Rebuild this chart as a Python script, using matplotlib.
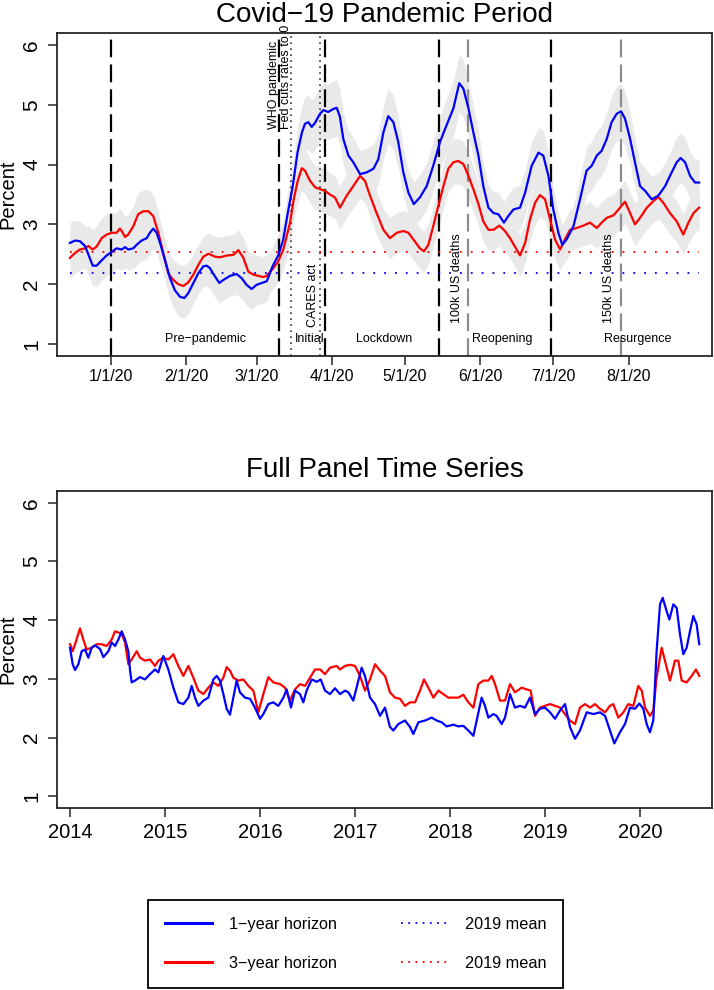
import matplotlib
matplotlib.use("Agg")
import matplotlib.pyplot as plt
import numpy as np
from matplotlib.lines import Line2D

plt.rcParams["font.family"] = ["Liberation Sans", "DejaVu Sans"]

# ---------------- Covid-19 pandemic period (days since 2020-01-01) ----------------
DAY0 = np.datetime64("2020-01-01")

blue_days = [-16.9, -14.8, -12.8, -10.7, -9.3, -7.5, -5.9, -3.8, -1.8, 0.3,
             2.3, 4.4, 5.8, 7.1, 9.2, 10.6, 12.6, 14.7, 16.0, 17.4,
             18.8, 20.2, 22.2, 24.3, 26.3, 28.4, 30.2, 31.8, 33.9, 35.9,
             38.0, 39.4, 40.7, 42.8, 44.6, 46.2, 49.0, 51.7, 53.8, 55.8,
             57.9, 59.9, 62.0, 64.1, 66.5, 68.8, 70.9, 72.8, 74.8, 76.8,
             78.6, 79.8, 81.2, 82.6, 84.0, 86.0, 87.4, 89.4, 91.5, 92.9,
             94.2, 95.6, 97.7, 99.7,
             102.5, 105.2, 108.0, 110.0, 112.1, 114.1, 116.2, 118.2, 120.3, 122.4,
             124.6, 127.1, 129.9, 132.6, 135.4, 138.1, 140.9, 143.3, 145.0, 147.1,
             149.1, 151.2, 153.2, 155.3, 157.4, 159.4, 161.7, 163.5, 165.6, 168.3,
             170.4, 173.1, 175.9, 177.9, 180.0, 182.0, 184.1, 185.7, 187.5, 190.3,
             193.0, 195.7, 197.8, 199.9, 201.9, 204.0, 206.0, 208.1, 209.9, 211.5,
             213.6, 215.6, 217.7, 219.8, 222.5, 225.2, 228.0, 230.7, 232.8, 234.4,
             236.2, 238.3, 240.3, 242.0]
blue_vals = [2.69, 2.73, 2.72, 2.64, 2.50, 2.31, 2.31, 2.40, 2.48, 2.54,
             2.60, 2.58, 2.62, 2.58, 2.60, 2.66, 2.73, 2.77, 2.86, 2.93,
             2.86, 2.69, 2.41, 2.10, 1.90, 1.79, 1.77, 1.85, 2.02, 2.18,
             2.30, 2.31, 2.27, 2.13, 2.02, 2.07, 2.14, 2.17, 2.10, 1.99,
             1.92, 1.99, 2.02, 2.05, 2.30, 2.48, 2.75, 3.20, 3.64, 4.21,
             4.54, 4.68, 4.71, 4.63, 4.70, 4.85, 4.91, 4.88, 4.93, 4.95,
             4.80, 4.43, 4.15, 4.04,
             3.84, 3.87, 3.93, 4.09, 4.54, 4.81, 4.71, 4.38, 3.87, 3.53,
             3.34, 3.45, 3.64, 3.98, 4.38, 4.66, 4.94, 5.36, 5.27, 4.94,
             4.54, 4.15, 3.64, 3.28, 3.19, 3.17, 3.03, 3.14, 3.25, 3.28,
             3.53, 3.98, 4.20, 4.15, 3.81, 3.25, 2.86, 2.66, 2.75, 2.97,
             3.42, 3.90, 3.98, 4.15, 4.23, 4.43, 4.71, 4.85, 4.89, 4.77,
             4.43, 4.04, 3.64, 3.56, 3.42, 3.48, 3.64, 3.87, 4.04, 4.11,
             4.04, 3.81, 3.70, 3.70]
blue_band = [0.34, 0.34, 0.34, 0.34, 0.34, 0.34, 0.34, 0.34, 0.34, 0.34,
             0.34, 0.34, 0.34, 0.34, 0.34, 0.34, 0.34, 0.34, 0.34, 0.35,
             0.34, 0.34, 0.34, 0.34, 0.34, 0.34, 0.34, 0.34, 0.34, 0.34,
             0.34, 0.34, 0.34, 0.34, 0.34, 0.34, 0.34, 0.34, 0.34, 0.34,
             0.34, 0.34, 0.34, 0.34, 0.34, 0.34, 0.34, 0.36, 0.39, 0.42,
             0.44, 0.45, 0.45, 0.45, 0.45, 0.46, 0.46, 0.46, 0.47, 0.47,
             0.46, 0.44, 0.42, 0.41,
             0.40, 0.40, 0.41, 0.42, 0.44, 0.46, 0.45, 0.43, 0.40, 0.38,
             0.37, 0.38, 0.39, 0.41, 0.43, 0.45, 0.47, 0.48, 0.48, 0.47,
             0.44, 0.42, 0.39, 0.37, 0.36, 0.36, 0.35, 0.36, 0.37, 0.37,
             0.38, 0.41, 0.42, 0.42, 0.40, 0.37, 0.34, 0.34, 0.34, 0.35,
             0.38, 0.40, 0.41, 0.42, 0.42, 0.44, 0.45, 0.46, 0.46, 0.46,
             0.44, 0.41, 0.39, 0.38, 0.38, 0.38, 0.39, 0.40, 0.41, 0.42,
             0.41, 0.40, 0.39, 0.39]

red_days = [-16.9, -14.8, -12.8, -10.7, -9.3, -7.5, -5.9, -3.8, -1.8, 0.3,
            2.3, 3.7, 4.4, 5.8, 7.1, 9.2, 11.2, 13.3, 15.4, 17.4,
            19.5, 21.5, 23.6, 25.7, 27.7, 29.8, 31.8, 33.9, 35.9, 38.0,
            40.1, 42.8, 44.9, 47.6, 50.3, 52.4, 54.5, 56.5, 58.6, 60.6,
            62.7, 64.1, 66.8, 68.8, 70.9, 73.7, 75.2, 76.8, 78.5, 79.8,
            81.9, 84.0, 86.0, 88.1, 90.1, 92.2, 94.2,
            97.0, 99.7, 102.5, 104.5, 106.6, 109.3, 112.1, 114.8, 117.6, 120.3,
            122.4, 124.4, 127.1, 128.8, 130.6, 132.6, 134.7, 136.8, 138.8, 140.9,
            142.9, 145.0, 147.1, 149.1, 151.2, 153.2, 155.3, 157.4, 159.8, 162.1,
            164.2, 166.2, 168.3, 170.4, 172.4, 174.5, 176.5, 178.6, 180.7, 182.7,
            184.8, 186.8, 188.9, 191.6, 194.4, 197.1, 199.9, 201.9, 204.0, 206.7,
            209.5, 211.5, 213.6, 215.6, 217.7, 220.5, 223.2, 225.2, 227.3, 230.0,
            232.8, 235.5, 237.6, 239.7, 242.0]
red_vals = [2.44, 2.52, 2.58, 2.60, 2.64, 2.58, 2.63, 2.77, 2.83, 2.86,
            2.86, 2.93, 2.89, 2.79, 2.83, 2.97, 3.17, 3.22, 3.22, 3.14,
            2.86, 2.52, 2.18, 2.07, 2.00, 1.97, 2.03, 2.16, 2.32, 2.46,
            2.51, 2.46, 2.45, 2.48, 2.49, 2.57, 2.44, 2.21, 2.16, 2.14,
            2.12, 2.14, 2.27, 2.38, 2.58, 3.03, 3.42, 3.72, 3.94, 3.90,
            3.73, 3.62, 3.59, 3.56, 3.50, 3.45, 3.28,
            3.48, 3.64, 3.81, 3.73, 3.48, 3.19, 2.91, 2.77, 2.86, 2.89,
            2.86, 2.75, 2.60, 2.55, 2.66, 2.97, 3.31, 3.64, 3.93, 4.04,
            4.06, 4.01, 3.81, 3.59, 3.34, 3.05, 2.91, 2.91, 2.98, 2.89,
            2.77, 2.63, 2.48, 2.69, 3.08, 3.36, 3.49, 3.42, 3.08, 2.75,
            2.58, 2.75, 2.91, 2.94, 2.98, 3.03, 2.94, 3.03, 3.11, 3.15,
            3.28, 3.38, 3.19, 3.00, 3.11, 3.28, 3.39, 3.46, 3.36, 3.19,
            3.05, 2.83, 3.03, 3.19, 3.28]
red_band = [0.34, 0.34, 0.34, 0.34, 0.34, 0.34, 0.34, 0.34, 0.34, 0.34,
            0.34, 0.34, 0.34, 0.34, 0.34, 0.34, 0.36, 0.36, 0.36, 0.36,
            0.34, 0.34, 0.34, 0.34, 0.34, 0.34, 0.34, 0.34, 0.34, 0.34,
            0.34, 0.34, 0.34, 0.34, 0.34, 0.34, 0.34, 0.34, 0.34, 0.34,
            0.34, 0.34, 0.34, 0.34, 0.34, 0.35, 0.36, 0.37, 0.38, 0.38,
            0.37, 0.37, 0.37, 0.37, 0.36, 0.36, 0.36,
            0.36, 0.37, 0.38, 0.37, 0.36, 0.36, 0.34, 0.34, 0.34, 0.34,
            0.34, 0.34, 0.34, 0.34, 0.34, 0.34, 0.36, 0.37, 0.38, 0.38,
            0.38, 0.38, 0.38, 0.37, 0.36, 0.35, 0.34, 0.34, 0.34, 0.34,
            0.34, 0.34, 0.34, 0.34, 0.35, 0.36, 0.36, 0.36, 0.35, 0.34,
            0.34, 0.34, 0.34, 0.34, 0.34, 0.35, 0.34, 0.35, 0.35, 0.35,
            0.36, 0.36, 0.35, 0.35, 0.35, 0.36, 0.36, 0.36, 0.36, 0.35,
            0.35, 0.34, 0.35, 0.35, 0.36]

blue_mean_2019 = 2.18
red_mean_2019 = 2.54

month_ticks = ["2020-01-01", "2020-02-01", "2020-03-01", "2020-04-01",
               "2020-05-01", "2020-06-01", "2020-07-01", "2020-08-01"]
month_labels = ["1/1/20", "2/1/20", "3/1/20", "4/1/20",
                "5/1/20", "6/1/20", "7/1/20", "8/1/20"]

period_dates = ["2020-01-01", "2020-03-10", "2020-03-29", "2020-05-15", "2020-06-30"]
policy_dates = ["2020-03-15", "2020-03-27"]
deaths_dates = ["2020-05-27", "2020-07-29"]

period_names = ["Pre\u2212pandemic", "Initial", "Lockdown", "Reopening", "Resurgence"]
period_label_days = [38.7, 81.9, 112.3, 160.9, 216.9]

# ---------------- Full panel (decimal years) ----------------
full_blue_years = [2014.000, 2014.028, 2014.053, 2014.088, 2014.123, 2014.158, 2014.193, 2014.228,
                   2014.263, 2014.316, 2014.351, 2014.404, 2014.439, 2014.474, 2014.509, 2014.544,
                   2014.579, 2014.614, 2014.632, 2014.649, 2014.684, 2014.737, 2014.789, 2014.842,
                   2014.895, 2014.930, 2014.982, 2015.035, 2015.088, 2015.140, 2015.193, 2015.246,
                   2015.281, 2015.316, 2015.351, 2015.404, 2015.456, 2015.509, 2015.544, 2015.579,
                   2015.614, 2015.649, 2015.684, 2015.719, 2015.754, 2015.789, 2015.842, 2015.895,
                   2015.947, 2016.000, 2016.035, 2016.088, 2016.140, 2016.193, 2016.246, 2016.281,
                   2016.326, 2016.368, 2016.421, 2016.456, 2016.491, 2016.544, 2016.596, 2016.639,
                   2016.684, 2016.737, 2016.789,
                   2016.842, 2016.895, 2016.930, 2016.982, 2017.035, 2017.070, 2017.105, 2017.158,
                   2017.211, 2017.263, 2017.316, 2017.368, 2017.404, 2017.456, 2017.526, 2017.579,
                   2017.614, 2017.667, 2017.737, 2017.807, 2017.860, 2017.912, 2017.965, 2018.035,
                   2018.088, 2018.140, 2018.193, 2018.246, 2018.288, 2018.333, 2018.368, 2018.404,
                   2018.456, 2018.491, 2018.544, 2018.579, 2018.632, 2018.684, 2018.737, 2018.789,
                   2018.842, 2018.895, 2018.947, 2019.000, 2019.053, 2019.105, 2019.158, 2019.211,
                   2019.263, 2019.316, 2019.368, 2019.439, 2019.509, 2019.579, 2019.632, 2019.684,
                   2019.730, 2019.789, 2019.842, 2019.895, 2019.947, 2019.993, 2020.035, 2020.070,
                   2020.105, 2020.140, 2020.175, 2020.211, 2020.239, 2020.281, 2020.309, 2020.351,
                   2020.386, 2020.421, 2020.456, 2020.491, 2020.526, 2020.561, 2020.596, 2020.624]
full_blue_vals = [3.53, 3.25, 3.15, 3.25, 3.47, 3.50, 3.36, 3.53,
                  3.57, 3.51, 3.37, 3.47, 3.62, 3.56, 3.67, 3.81,
                  3.67, 3.47, 3.14, 2.94, 2.97, 3.03, 2.99, 3.08,
                  3.16, 3.11, 3.39, 3.16, 2.85, 2.60, 2.57, 2.68,
                  2.88, 2.68, 2.54, 2.63, 2.68, 2.99, 3.05, 2.97,
                  2.74, 2.49, 2.39, 2.68, 2.97, 2.77, 2.68, 2.66,
                  2.51, 2.32, 2.40, 2.57, 2.60, 2.54, 2.68, 2.82,
                  2.51, 2.80, 2.74, 2.60, 2.80, 2.99, 2.95, 2.99,
                  2.80, 2.74, 2.84,
                  2.74, 2.80, 2.77, 2.63, 2.97, 3.19, 3.05, 2.68,
                  2.57, 2.37, 2.51, 2.18, 2.12, 2.23, 2.29, 2.18,
                  2.06, 2.26, 2.29, 2.34, 2.29, 2.26, 2.19, 2.22,
                  2.19, 2.20, 2.12, 2.03, 2.34, 2.68, 2.54, 2.34,
                  2.40, 2.37, 2.23, 2.34, 2.74, 2.51, 2.54, 2.51,
                  2.68, 2.40, 2.49, 2.51, 2.43, 2.32, 2.46, 2.57,
                  2.18, 1.98, 2.12, 2.43, 2.40, 2.43, 2.37, 2.12,
                  1.90, 2.09, 2.23, 2.51, 2.49, 2.58, 2.49, 2.23,
                  2.09, 2.29, 3.47, 4.27, 4.38, 4.15, 4.01, 4.27,
                  4.21, 3.76, 3.42, 3.53, 3.81, 4.07, 3.93, 3.59]

full_red_years = [2014.000, 2014.028, 2014.063, 2014.105, 2014.140, 2014.175, 2014.228, 2014.281,
                  2014.333, 2014.386, 2014.439, 2014.474, 2014.509, 2014.544, 2014.579, 2014.614,
                  2014.649, 2014.702, 2014.737, 2014.789, 2014.842, 2014.895, 2014.930, 2014.982,
                  2015.035, 2015.088, 2015.140, 2015.193, 2015.246, 2015.298, 2015.351, 2015.404,
                  2015.456, 2015.509, 2015.561, 2015.614, 2015.649, 2015.684, 2015.719, 2015.772,
                  2015.825, 2015.877, 2015.930, 2015.982, 2016.035, 2016.088, 2016.140, 2016.211,
                  2016.263, 2016.316, 2016.368, 2016.421, 2016.474, 2016.526, 2016.579, 2016.632,
                  2016.684, 2016.737, 2016.807,
                  2016.842, 2016.895, 2016.947, 2017.000, 2017.053, 2017.105, 2017.158, 2017.211,
                  2017.263, 2017.316, 2017.368, 2017.421, 2017.474, 2017.526, 2017.579, 2017.632,
                  2017.684, 2017.726, 2017.772, 2017.825, 2017.877, 2017.930, 2017.982, 2018.035,
                  2018.088, 2018.140, 2018.193, 2018.246, 2018.298, 2018.351, 2018.404, 2018.439,
                  2018.474, 2018.526, 2018.579, 2018.632, 2018.684, 2018.754, 2018.807, 2018.849,
                  2018.895, 2018.947, 2019.000, 2019.053, 2019.105, 2019.158, 2019.211, 2019.263,
                  2019.316, 2019.368, 2019.421, 2019.474, 2019.526, 2019.579, 2019.632, 2019.684,
                  2019.719, 2019.772, 2019.825, 2019.877, 2019.930, 2019.982, 2020.018, 2020.053,
                  2020.105, 2020.140, 2020.175, 2020.228, 2020.263, 2020.316, 2020.368, 2020.404,
                  2020.439, 2020.491, 2020.544, 2020.589, 2020.624]
full_red_vals = [3.59, 3.47, 3.64, 3.86, 3.67, 3.50, 3.53, 3.59,
                 3.59, 3.56, 3.67, 3.81, 3.79, 3.76, 3.62, 3.25,
                 3.33, 3.47, 3.36, 3.31, 3.33, 3.22, 3.31, 3.36,
                 3.33, 3.42, 3.22, 3.05, 3.22, 3.02, 2.80, 2.74,
                 2.85, 2.94, 2.88, 3.02, 3.20, 3.14, 3.02, 2.97,
                 2.99, 2.88, 2.80, 2.43, 2.74, 3.03, 2.94, 2.91,
                 2.85, 2.63, 2.82, 2.91, 2.88, 3.02, 3.16, 3.16,
                 3.08, 3.19, 3.22,
                 3.16, 3.22, 3.24, 3.22, 3.05, 2.80, 2.99, 3.25,
                 3.14, 3.05, 2.77, 2.68, 2.66, 2.54, 2.60, 2.60,
                 2.80, 2.99, 2.85, 2.68, 2.80, 2.74, 2.68, 2.68,
                 2.68, 2.73, 2.60, 2.51, 2.91, 2.97, 2.97, 3.05,
                 2.91, 2.63, 2.63, 2.91, 2.77, 2.85, 2.82, 2.80,
                 2.37, 2.51, 2.54, 2.57, 2.54, 2.51, 2.40, 2.29,
                 2.23, 2.51, 2.57, 2.51, 2.57, 2.49, 2.43, 2.54,
                 2.57, 2.34, 2.43, 2.57, 2.54, 2.88, 2.80, 2.51,
                 2.37, 2.46, 3.02, 3.53, 3.31, 2.97, 3.31, 3.31,
                 2.97, 2.94, 3.05, 3.16, 3.05]

year_ticks = [2014, 2015, 2016, 2017, 2018, 2019, 2020]

BLUE = "#0000FF"
RED = "#FF0000"
BAND = "#E9E9E9"
SPINE = "#262626"


def day_of(date_str):
    return float((np.datetime64(date_str) - DAY0).astype(int))


def style_axes(ax):
    for sp in ax.spines.values():
        sp.set_color(SPINE)
        sp.set_linewidth(1.3)
    ax.set_ylim(0.8, 6.2)
    ax.set_yticks([1, 2, 3, 4, 5, 6])
    ax.tick_params(axis="both", direction="out", length=6.5, width=1.1, color=SPINE)
    ax.tick_params(axis="y", labelrotation=90, labelsize=15, pad=5)
    plt.setp(ax.get_yticklabels(), va="center")
    ax.set_ylabel("Percent", fontsize=14.5, labelpad=3)


fig = plt.figure(figsize=(7.14, 9.9), dpi=100)

# ---- top panel ----
ax1 = fig.add_axes([57 / 714, 1 - 356 / 990, 655 / 714, 323 / 990])
style_axes(ax1)

bd = np.array(blue_days)
bv = np.array(blue_vals)
bb = np.array(blue_band)
rd = np.array(red_days)
rv = np.array(red_vals)
rb = np.array(red_band)

ax1.fill_between(bd, bv - bb, bv + bb, color=BAND, lw=0, zorder=1)
ax1.fill_between(rd, rv - rb, rv + rb, color=BAND, lw=0, zorder=1)

for d in period_dates:
    ax1.axvline(day_of(d), color="black", lw=1.6, ls=(0, (8, 3.2)), zorder=2)
for d in policy_dates:
    ax1.axvline(day_of(d), color="#333333", lw=1.2, ls=(0, (1, 2.6)), zorder=2)
for d in deaths_dates:
    ax1.axvline(day_of(d), color="#8C8C8C", lw=1.6, ls=(0, (8, 3.2)), zorder=2)

ax1.hlines(blue_mean_2019, bd[0], bd[-1], color=BLUE, lw=1.3, ls=(0, (1, 5)), zorder=3)
ax1.hlines(red_mean_2019, rd[0], rd[-1], color=RED, lw=1.3, ls=(0, (1, 5)), zorder=3)

ax1.plot(rd, rv, color=RED, lw=1.6, zorder=4)
ax1.plot(bd, bv, color=BLUE, lw=1.6, zorder=5)

for name, x in zip(period_names, period_label_days):
    ax1.text(x, 1.09, name, fontsize=9, ha="center", va="center", zorder=6)

ax1.text(69.6, 4.6, "WHO pandemic\nFed cuts rates to 0", rotation=90, fontsize=9,
         ha="center", va="bottom", multialignment="left", linespacing=0.95, zorder=6)
ax1.text(83.1, 1.28, "CARES act", rotation=90, fontsize=9, ha="center", va="bottom", zorder=6)
ax1.text(142.4, 1.35, "100k US deaths", rotation=90, fontsize=9, ha="center", va="bottom", zorder=6)
ax1.text(204.9, 1.35, "150k US deaths", rotation=90, fontsize=9, ha="center", va="bottom", zorder=6)

ax1.set_xlim(-22.2, 247.3)
ax1.set_xticks([day_of(d) for d in month_ticks])
ax1.set_xticklabels(month_labels, fontsize=11.5)
ax1.tick_params(axis="x", pad=3)
ax1.set_title("Covid\u221219 Pandemic Period", fontsize=20, pad=8)

# ---- bottom panel ----
ax2 = fig.add_axes([57 / 714, 1 - 808 / 990, 655 / 714, 317 / 990])
style_axes(ax2)
ax2.plot(full_red_years, full_red_vals, color=RED, lw=1.6, zorder=4)
ax2.plot(full_blue_years, full_blue_vals, color=BLUE, lw=1.6, zorder=5)
ax2.set_xlim(2013.863, 2020.758)
ax2.set_xticks(year_ticks)
ax2.set_xticklabels([str(y) for y in year_ticks], fontsize=14.5)
ax2.tick_params(axis="x", pad=4)
ax2.set_title("Full Panel Time Series", fontsize=20, pad=10)

# ---- legend ----
handles = [
    Line2D([], [], color=BLUE, lw=2.2),
    Line2D([], [], color=RED, lw=2.2),
    Line2D([], [], color=BLUE, lw=1.3, ls=(0, (1, 3))),
    Line2D([], [], color=RED, lw=1.3, ls=(0, (1, 3))),
]
labels = ["1\u2212year horizon", "3\u2212year horizon", "2019 mean", "2019 mean"]
leg = fig.legend(handles, labels, loc="upper left", bbox_to_anchor=(148 / 714, 1 - 900 / 990),
                 ncol=2, fontsize=11.7, frameon=True, fancybox=False, framealpha=1,
                 edgecolor="black", handlelength=2.9, handletextpad=1.05,
                 columnspacing=3.9, borderpad=1.05, labelspacing=1.45, borderaxespad=0)
leg.get_frame().set_linewidth(1.3)

fig.savefig("out.png", dpi=100)
